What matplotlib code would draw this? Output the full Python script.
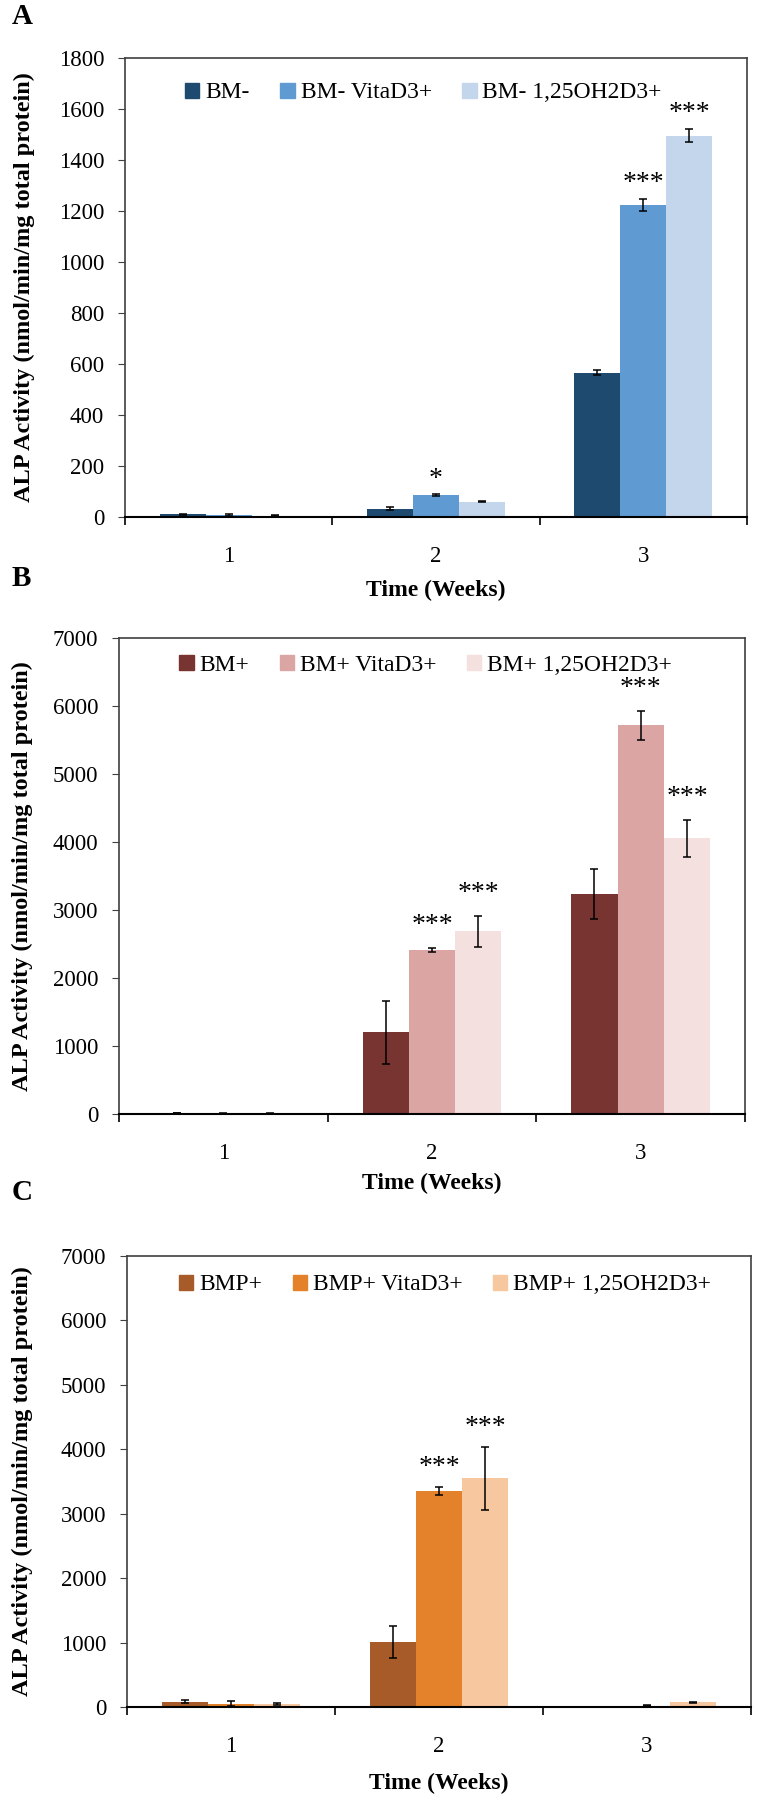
import numpy as np
import matplotlib
matplotlib.use("Agg")
import matplotlib.pyplot as plt
from matplotlib.patches import Patch

plt.rcParams['font.family'] = ['Liberation Serif', 'DejaVu Serif']

weeks = ['1', '2', '3']

# panel A: BM-
a_labels = ['BM-', 'BM- VitaD3+', 'BM- 1,25OH2D3+']
a_vals = [[10, 33, 566], [8, 86, 1225], [4, 60, 1496]]
a_errs = [[3, 5, 10], [3, 3, 24], [2, 3, 27]]
a_stars = [[None, None, None], [None, '*', '***'], [None, None, '***']]

# panel B: BM+
b_labels = ['BM+', 'BM+ VitaD3+', 'BM+ 1,25OH2D3+']
b_vals = [[15, 1204, 3236], [8, 2408, 5717], [6, 2684, 4057]]
b_errs = [[5, 464, 371], [3, 30, 211], [3, 225, 273]]
b_stars = [[None, None, None], [None, '***', '***'], [None, '***', '***']]

# panel C: BMP+
c_labels = ['BMP+', 'BMP+ VitaD3+', 'BMP+ 1,25OH2D3+']
c_vals = [[85, 1010, 3], [48, 3355, 20], [48, 3549, 73]]
c_errs = [[27, 248, 2], [40, 63, 10], [15, 490, 10]]
c_stars = [[None, None, None], [None, '***', None], [None, '***', None]]

W, H = 758, 1800
fig = plt.figure(figsize=(W / 100, H / 100), dpi=100)


def box(left, right, top, bottom):
    return [left / W, 1 - bottom / H, (right - left) / W, (bottom - top) / H]


def panel(rect, labels, vals, errs, stars, colors, ymax, step, leg_y, leg_x,
          star_gap, ylab_x, xlab_y, letter, letter_y):
    ax = fig.add_axes(box(*rect))
    x = np.arange(1, len(weeks) + 1)
    w = 0.222
    for i in range(3):
        pos = x + (i - 1) * w
        ax.bar(pos, vals[i], w, color=colors[i], yerr=errs[i],
               error_kw=dict(ecolor='black', elinewidth=1.1, capsize=3, capthick=1.1),
               zorder=2)
        for j, s in enumerate(stars[i]):
            if s:
                ax.annotate(s, (pos[j], vals[i][j] + errs[i][j]),
                            xytext=(0, star_gap), textcoords='offset points',
                            ha='center', va='bottom', fontsize=20)
    ax.set_xlim(0.5, len(weeks) + 0.5)
    ax.set_ylim(0, ymax)
    ax.set_yticks(np.arange(0, ymax + 1, step))
    ax.set_xticks(x)
    ax.set_xticklabels(weeks)
    ax.set_xticks(np.arange(0.5, len(weeks) + 1, 1), minor=True)
    ax.tick_params(axis='x', which='major', length=0, pad=21, labelsize=16.5)
    ax.tick_params(axis='x', which='minor', length=6, direction='out', width=1.2)
    ax.tick_params(axis='y', length=5, direction='out', pad=10, labelsize=16.5,
                   color='#404040')
    for sp in ['top', 'right', 'left']:
        ax.spines[sp].set_color('#404040')
        ax.spines[sp].set_linewidth(1.2)
    ax.spines['bottom'].set_linewidth(1.5)

    handles = [Patch(color=colors[i], label=labels[i]) for i in range(3)]
    ax.legend(handles=handles, loc='center', bbox_to_anchor=(leg_x, leg_y),
              ncol=3, frameon=False, fontsize=17, handlelength=0.6,
              handleheight=0.6, handletextpad=0.25, columnspacing=1.3)

    cx = (rect[0] + rect[1]) / 2
    cy = (rect[2] + rect[3]) / 2
    fig.text(ylab_x / W, 1 - cy / H, 'ALP Activity (nmol/min/mg total protein)',
             rotation=90, ha='center', va='center', fontsize=17.5, fontweight='bold')
    fig.text(cx / W, 1 - xlab_y / H, 'Time (Weeks)', ha='center', va='center',
             fontsize=17, fontweight='bold')
    fig.text(12 / W, 1 - letter_y / H, letter, ha='left', va='center',
             fontsize=21, fontweight='bold')
    return ax


panel((125, 747, 58, 517), a_labels, a_vals, a_errs, a_stars,
      ['#1F4A70', '#5F9AD3', '#C3D6EB'], 1800, 200, 0.924, 0.48, 2,
      24, 590, 'A', 16)
panel((119, 745, 638, 1114), b_labels, b_vals, b_errs, b_stars,
      ['#773431', '#DBA5A3', '#F5E0E0'], 7000, 1000, 0.943, 0.49, 7,
      22, 1183, 'B', 579)
panel((127, 751, 1256, 1707), c_labels, c_vals, c_errs, c_stars,
      ['#A65B28', '#E3822A', '#F7C8A0'], 7000, 1000, 0.936, 0.51, 5,
      22, 1783, 'C', 1193)

fig.savefig('out.png', dpi=100)
